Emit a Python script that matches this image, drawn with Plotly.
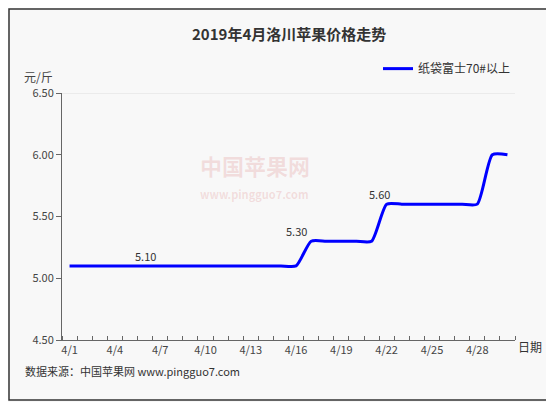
import plotly.graph_objects as go

days = list(range(1, 31))
prices = [5.10]*16 + [5.30]*5 + [5.60]*7 + [6.00]*2
label_days = [6, 16, 21.5]
label_vals = ["5.10", "5.30", "5.60"]
tick_days = [1, 4, 7, 10, 13, 16, 19, 22, 25, 28]
tick_text = ["4/%d" % d for d in tick_days]
yticks = [4.5, 5.0, 5.5, 6.0, 6.5]

F = "Noto Sans CJK SC"
W, H = 453, 247
fig = go.Figure()
fig.add_trace(go.Scatter(x=days, y=prices, mode="lines", name="纸袋富士70#以上",
                         line=dict(color="#0000ff", width=3, shape="spline", smoothing=0.6)))
for d, t in zip(label_days, label_vals):
    fig.add_annotation(x=d, y=float(t), text=t, showarrow=False, yshift=10,
                       font=dict(family=F, size=11, color="#333"))
fig.add_annotation(x=0.30, y=0.78, xref="paper", yref="paper", text="<b>中国苹果网</b>", showarrow=False,
                   font=dict(family=F, size=22, color="rgba(220,120,120,0.22)"))
fig.add_annotation(x=0.30, y=0.59, xref="paper", yref="paper", text="<b>www.pingguo7.com</b>", showarrow=False,
                   font=dict(family=F, size=11, color="rgba(220,120,120,0.22)"))
fig.add_annotation(x=0.5, y=1, xref="paper", yref="paper", yanchor="middle", text="<b>2019年4月洛川苹果价格走势</b>",
                   showarrow=False, yshift=60, font=dict(family=F, size=15, color="#333"))
fig.add_annotation(x=-0.015, y=1, xref="paper", yref="paper", text="元/斤", showarrow=False,
                   xanchor="right", yshift=27, font=dict(family=F, size=12, color="#444"))
fig.add_annotation(x=1.065, y=0, xref="paper", yref="paper", text="日期", showarrow=False,
                   yshift=-17, font=dict(family=F, size=12, color="#333"))
fig.add_annotation(x=-0.085, y=0, xref="paper", yref="paper", text="数据来源：中国苹果网 www.pingguo7.com",
                   showarrow=False, xanchor="left", yshift=-41, font=dict(family=F, size=11, color="#333"))
fig.add_shape(type="line", xref="paper", x0=0, x1=1, y0=6.5, y1=6.5, line=dict(color="#ddd", width=1))
fig.add_shape(type="rect", xref="paper", yref="paper", x0=-53/W, x1=1+37/W, y0=-60/H, y1=1+84/H,
              line=dict(color="#333", width=1.5))
fig.update_layout(
    width=546, height=394, margin=dict(l=54, r=39, t=85, b=62, autoexpand=False),
    paper_bgcolor="#f8f8f8", plot_bgcolor="#f8f8f8",
    showlegend=True,
    legend=dict(x=1, y=1.04, xanchor="right", yanchor="bottom", orientation="h",
                font=dict(family=F, size=12, color="#333"), bgcolor="rgba(0,0,0,0)"),
    xaxis=dict(range=[0.5, 30.5], tickvals=tick_days, ticktext=tick_text, ticks="", showgrid=False,
               showline=True, linecolor="#666", zeroline=False,
               tickfont=dict(family=F, size=11, color="#444"),
               minor=dict(ticks="inside", tick0=0.5, dtick=1, ticklen=4, tickcolor="#666", showgrid=False)),
    yaxis=dict(range=[4.5, 6.5], tickvals=yticks, ticktext=["%.2f" % v for v in yticks], ticks="outside",
               ticklen=5, tickcolor="#666", showgrid=False, showline=True, linecolor="#666", zeroline=False,
               tickfont=dict(family=F, size=11, color="#444")),
)
fig.write_html("out.html")
